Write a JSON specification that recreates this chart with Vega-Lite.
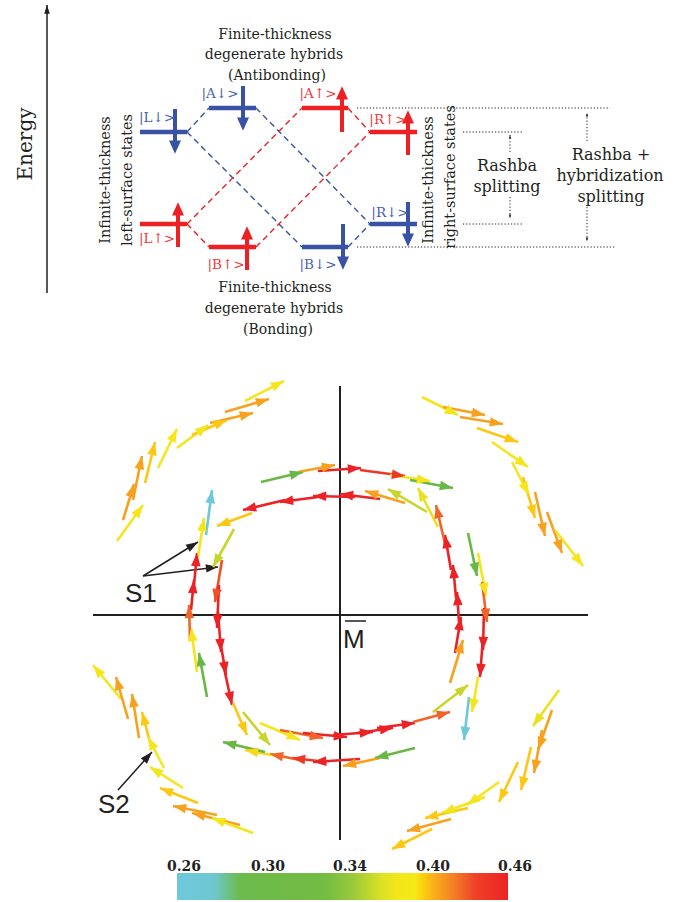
{
  "$schema": "https://vega.github.io/schema/vega-lite/v6.json",
  "width": 684,
  "height": 902,
  "autosize": {"type": "fit", "contains": "padding"},
  "padding": 0,
  "background": "white",
  "config": {"view": {"stroke": null}},
  "datasets": {
    "diagLines": [
      {"kind": "energy", "x": 47, "y": 293, "x2": 47, "y2": 5},
      {"kind": "dot", "x": 357, "y": 108, "x2": 610, "y2": 108},
      {"kind": "dot", "x": 357, "y": 247, "x2": 615, "y2": 247},
      {"kind": "dot", "x": 463, "y": 132, "x2": 523, "y2": 132},
      {"kind": "dot", "x": 463, "y": 224, "x2": 523, "y2": 224},
      {"kind": "dotArrow", "x": 510, "y": 152, "x2": 510, "y2": 135},
      {"kind": "dotArrow", "x": 510, "y": 197, "x2": 510, "y2": 218},
      {"kind": "dotArrow", "x": 587, "y": 141, "x2": 587, "y2": 113},
      {"kind": "dotArrow", "x": 587, "y": 207, "x2": 587, "y2": 241},
      {"kind": "kaxis", "x": 93, "y": 615, "x2": 588, "y2": 615},
      {"kind": "kaxis", "x": 340, "y": 386, "x2": 340, "y2": 840},
      {"kind": "overline", "x": 345, "y": 621, "x2": 366, "y2": 621},
      {"kind": "pointer", "x": 143, "y": 576, "x2": 198, "y2": 542},
      {"kind": "pointer", "x": 143, "y": 576, "x2": 218, "y2": 567},
      {"kind": "pointer", "x": 118, "y": 790, "x2": 152, "y2": 752}
    ],
    "levels": [
      {"state": "L↓", "spin": "down", "x": 140, "x2": 187, "y": 132},
      {"state": "L↑", "spin": "up", "x": 140, "x2": 187, "y": 224},
      {"state": "A↓", "spin": "down", "x": 209, "x2": 256, "y": 108},
      {"state": "A↑", "spin": "up", "x": 302, "x2": 348, "y": 108},
      {"state": "B↑", "spin": "up", "x": 209, "x2": 256, "y": 247},
      {"state": "B↓", "spin": "down", "x": 302, "x2": 348, "y": 247},
      {"state": "R↑", "spin": "up", "x": 370, "x2": 417, "y": 132},
      {"state": "R↓", "spin": "down", "x": 370, "x2": 417, "y": 224}
    ],
    "spins": [
      {"state": "L↓", "spin": "down", "x": 175, "y": 109, "x2": 175, "y2": 149},
      {"state": "A↓", "spin": "down", "x": 243, "y": 86, "x2": 243, "y2": 126},
      {"state": "A↑", "spin": "up", "x": 342, "y": 132, "x2": 342, "y2": 91},
      {"state": "L↑", "spin": "up", "x": 178, "y": 247, "x2": 178, "y2": 207},
      {"state": "B↑", "spin": "up", "x": 247, "y": 270, "x2": 247, "y2": 231},
      {"state": "B↓", "spin": "down", "x": 343, "y": 224, "x2": 343, "y2": 265},
      {"state": "R↑", "spin": "up", "x": 408, "y": 155, "x2": 408, "y2": 115},
      {"state": "R↓", "spin": "down", "x": 408, "y": 202, "x2": 408, "y2": 242}
    ],
    "dashes": [
      {"spin": "down", "x": 187, "y": 132, "x2": 209, "y2": 108},
      {"spin": "down", "x": 256, "y": 108, "x2": 370, "y2": 224},
      {"spin": "down", "x": 187, "y": 132, "x2": 302, "y2": 247},
      {"spin": "down", "x": 348, "y": 247, "x2": 370, "y2": 224},
      {"spin": "up", "x": 187, "y": 224, "x2": 302, "y2": 108},
      {"spin": "up", "x": 187, "y": 224, "x2": 209, "y2": 247},
      {"spin": "up", "x": 256, "y": 247, "x2": 370, "y2": 132},
      {"spin": "up", "x": 348, "y": 108, "x2": 370, "y2": 132}
    ],
    "kets": [
      {"t": "|L↓>", "spin": "down", "x": 157, "y": 118},
      {"t": "|A↓>", "spin": "down", "x": 220, "y": 94},
      {"t": "|A↑>", "spin": "up", "x": 318, "y": 94},
      {"t": "|L↑>", "spin": "up", "x": 157, "y": 239},
      {"t": "|B↑>", "spin": "up", "x": 226, "y": 265},
      {"t": "|B↓>", "spin": "down", "x": 318, "y": 265},
      {"t": "|R↑>", "spin": "up", "x": 388, "y": 120},
      {"t": "|R↓>", "spin": "down", "x": 390, "y": 213}
    ],
    "texts": [
      {"kind": "hyb", "t": "Finite-thickness", "x": 275, "y": 35},
      {"kind": "hyb", "t": "degenerate hybrids", "x": 274, "y": 55},
      {"kind": "hyb", "t": "(Antibonding)", "x": 277, "y": 76},
      {"kind": "hyb", "t": "Finite-thickness", "x": 275, "y": 288},
      {"kind": "hyb", "t": "degenerate hybrids", "x": 274, "y": 309},
      {"kind": "hyb", "t": "(Bonding)", "x": 278, "y": 330},
      {"kind": "side", "t": "Infinite-thickness", "x": 106, "y": 180},
      {"kind": "side", "t": "left-surface states", "x": 128, "y": 180},
      {"kind": "side", "t": "Infinite-thickness", "x": 429, "y": 180},
      {"kind": "side", "t": "right-surface states", "x": 451, "y": 177},
      {"kind": "rashba", "t": "Rashba", "x": 507, "y": 166},
      {"kind": "rashba", "t": "splitting", "x": 507, "y": 187},
      {"kind": "rashba", "t": "Rashba +", "x": 611, "y": 155},
      {"kind": "rashba", "t": "hybridization", "x": 610, "y": 176},
      {"kind": "rashba", "t": "splitting", "x": 611, "y": 197},
      {"kind": "energy", "t": "Energy", "x": 26, "y": 144}
    ],
    "sansLabels": [
      {"t": "M", "x": 343, "y": 648},
      {"t": "S1", "x": 125, "y": 602},
      {"t": "S2", "x": 98, "y": 813}
    ],
    "colorbar": [{"x": 177, "x2": 508, "y": 873, "y2": 900}],
    "cbLabels": [
      {"t": "0.26", "x": 184, "y": 871},
      {"t": "0.30", "x": 268, "y": 871},
      {"t": "0.34", "x": 350, "y": 871},
      {"t": "0.40", "x": 433, "y": 871},
      {"t": "0.46", "x": 515, "y": 871}
    ],
    "vecs": [
      {"x": 117, "y": 541, "x2": 143, "y2": 505, "v": 0.385},
      {"x": 123, "y": 520, "x2": 134, "y2": 484, "v": 0.41},
      {"x": 133, "y": 500, "x2": 142, "y2": 456, "v": 0.41},
      {"x": 145, "y": 483, "x2": 155, "y2": 442, "v": 0.395},
      {"x": 158, "y": 468, "x2": 177, "y2": 429, "v": 0.385},
      {"x": 177, "y": 448, "x2": 208, "y2": 425, "v": 0.385},
      {"x": 192, "y": 435, "x2": 227, "y2": 420, "v": 0.395},
      {"x": 210, "y": 423, "x2": 253, "y2": 413, "v": 0.41},
      {"x": 225, "y": 412, "x2": 269, "y2": 399, "v": 0.41},
      {"x": 245, "y": 401, "x2": 284, "y2": 381, "v": 0.385},
      {"x": 422, "y": 397, "x2": 458, "y2": 415, "v": 0.385},
      {"x": 443, "y": 407, "x2": 485, "y2": 415, "v": 0.41},
      {"x": 460, "y": 417, "x2": 503, "y2": 424, "v": 0.41},
      {"x": 477, "y": 428, "x2": 518, "y2": 442, "v": 0.395},
      {"x": 492, "y": 442, "x2": 528, "y2": 467, "v": 0.385},
      {"x": 512, "y": 462, "x2": 529, "y2": 495, "v": 0.385},
      {"x": 523, "y": 477, "x2": 535, "y2": 518, "v": 0.395},
      {"x": 535, "y": 492, "x2": 545, "y2": 536, "v": 0.41},
      {"x": 547, "y": 512, "x2": 562, "y2": 553, "v": 0.41},
      {"x": 555, "y": 530, "x2": 583, "y2": 566, "v": 0.385},
      {"x": 121, "y": 699, "x2": 93, "y2": 665, "v": 0.385},
      {"x": 128, "y": 719, "x2": 116, "y2": 677, "v": 0.41},
      {"x": 139, "y": 738, "x2": 132, "y2": 694, "v": 0.41},
      {"x": 150, "y": 742, "x2": 142, "y2": 712, "v": 0.395},
      {"x": 164, "y": 768, "x2": 148, "y2": 737, "v": 0.385},
      {"x": 183, "y": 788, "x2": 150, "y2": 767, "v": 0.385},
      {"x": 198, "y": 803, "x2": 160, "y2": 788, "v": 0.395},
      {"x": 217, "y": 815, "x2": 173, "y2": 806, "v": 0.41},
      {"x": 240, "y": 825, "x2": 192, "y2": 813, "v": 0.41},
      {"x": 253, "y": 833, "x2": 212, "y2": 818, "v": 0.385},
      {"x": 559, "y": 690, "x2": 533, "y2": 726, "v": 0.38},
      {"x": 552, "y": 710, "x2": 538, "y2": 750, "v": 0.41},
      {"x": 542, "y": 730, "x2": 534, "y2": 773, "v": 0.41},
      {"x": 531, "y": 747, "x2": 521, "y2": 790, "v": 0.395},
      {"x": 518, "y": 762, "x2": 499, "y2": 802, "v": 0.395},
      {"x": 499, "y": 782, "x2": 467, "y2": 805, "v": 0.385},
      {"x": 485, "y": 797, "x2": 442, "y2": 813, "v": 0.385},
      {"x": 468, "y": 808, "x2": 425, "y2": 818, "v": 0.395},
      {"x": 451, "y": 819, "x2": 407, "y2": 831, "v": 0.41},
      {"x": 432, "y": 829, "x2": 392, "y2": 849, "v": 0.395},
      {"x": 261, "y": 482, "x2": 303, "y2": 472, "v": 0.31},
      {"x": 298, "y": 472, "x2": 335, "y2": 465, "v": 0.41},
      {"x": 318, "y": 471, "x2": 361, "y2": 468, "v": 0.46},
      {"x": 360, "y": 470, "x2": 405, "y2": 476, "v": 0.45},
      {"x": 390, "y": 475, "x2": 430, "y2": 481, "v": 0.385},
      {"x": 410, "y": 480, "x2": 453, "y2": 488, "v": 0.31},
      {"x": 468, "y": 533, "x2": 477, "y2": 576, "v": 0.31},
      {"x": 478, "y": 553, "x2": 486, "y2": 596, "v": 0.385},
      {"x": 482, "y": 582, "x2": 487, "y2": 622, "v": 0.43},
      {"x": 484, "y": 608, "x2": 483, "y2": 650, "v": 0.46},
      {"x": 483, "y": 637, "x2": 480, "y2": 677, "v": 0.46},
      {"x": 478, "y": 677, "x2": 472, "y2": 712, "v": 0.385},
      {"x": 469, "y": 697, "x2": 464, "y2": 740, "v": 0.26},
      {"x": 415, "y": 748, "x2": 375, "y2": 758, "v": 0.31},
      {"x": 380, "y": 758, "x2": 343, "y2": 766, "v": 0.41},
      {"x": 360, "y": 759, "x2": 313, "y2": 762, "v": 0.46},
      {"x": 327, "y": 762, "x2": 292, "y2": 758, "v": 0.45},
      {"x": 300, "y": 760, "x2": 270, "y2": 754, "v": 0.43},
      {"x": 282, "y": 757, "x2": 245, "y2": 750, "v": 0.39},
      {"x": 265, "y": 752, "x2": 223, "y2": 742, "v": 0.31},
      {"x": 207, "y": 697, "x2": 199, "y2": 653, "v": 0.31},
      {"x": 197, "y": 672, "x2": 191, "y2": 628, "v": 0.385},
      {"x": 190, "y": 640, "x2": 189, "y2": 605, "v": 0.43},
      {"x": 191, "y": 610, "x2": 194, "y2": 580, "v": 0.46},
      {"x": 194, "y": 585, "x2": 197, "y2": 553, "v": 0.46},
      {"x": 198, "y": 557, "x2": 204, "y2": 518, "v": 0.385},
      {"x": 206, "y": 535, "x2": 212, "y2": 490, "v": 0.26},
      {"x": 427, "y": 512, "x2": 388, "y2": 489, "v": 0.365},
      {"x": 438, "y": 527, "x2": 418, "y2": 488, "v": 0.38},
      {"x": 405, "y": 503, "x2": 365, "y2": 491, "v": 0.41},
      {"x": 380, "y": 499, "x2": 340, "y2": 494, "v": 0.46},
      {"x": 355, "y": 497, "x2": 313, "y2": 496, "v": 0.46},
      {"x": 318, "y": 497, "x2": 280, "y2": 502, "v": 0.46},
      {"x": 285, "y": 500, "x2": 243, "y2": 510, "v": 0.46},
      {"x": 252, "y": 513, "x2": 217, "y2": 526, "v": 0.395},
      {"x": 234, "y": 529, "x2": 213, "y2": 567, "v": 0.365},
      {"x": 222, "y": 560, "x2": 215, "y2": 602, "v": 0.44},
      {"x": 219, "y": 585, "x2": 217, "y2": 628, "v": 0.46},
      {"x": 218, "y": 612, "x2": 221, "y2": 652, "v": 0.46},
      {"x": 220, "y": 640, "x2": 226, "y2": 675, "v": 0.46},
      {"x": 224, "y": 668, "x2": 232, "y2": 705, "v": 0.46},
      {"x": 233, "y": 703, "x2": 247, "y2": 735, "v": 0.395},
      {"x": 243, "y": 712, "x2": 270, "y2": 745, "v": 0.365},
      {"x": 260, "y": 723, "x2": 300, "y2": 740, "v": 0.385},
      {"x": 280, "y": 730, "x2": 323, "y2": 738, "v": 0.43},
      {"x": 303, "y": 733, "x2": 347, "y2": 737, "v": 0.46},
      {"x": 333, "y": 735, "x2": 373, "y2": 732, "v": 0.46},
      {"x": 357, "y": 733, "x2": 393, "y2": 728, "v": 0.46},
      {"x": 377, "y": 728, "x2": 415, "y2": 723, "v": 0.46},
      {"x": 413, "y": 722, "x2": 450, "y2": 712, "v": 0.43},
      {"x": 433, "y": 712, "x2": 468, "y2": 685, "v": 0.365},
      {"x": 450, "y": 683, "x2": 463, "y2": 640, "v": 0.41},
      {"x": 455, "y": 653, "x2": 461, "y2": 617, "v": 0.46},
      {"x": 459, "y": 622, "x2": 457, "y2": 592, "v": 0.46},
      {"x": 456, "y": 598, "x2": 453, "y2": 565, "v": 0.46},
      {"x": 451, "y": 570, "x2": 445, "y2": 535, "v": 0.46},
      {"x": 446, "y": 548, "x2": 436, "y2": 505, "v": 0.43}
    ]
  },
  "encoding": {
    "x": {"field": "x", "type": "quantitative", "scale": {"domain": [0, 684], "nice": false, "zero": false}, "axis": null},
    "y": {"field": "y", "type": "quantitative", "scale": {"domain": [0, 902], "nice": false, "zero": false, "reverse": true}, "axis": null}
  },
  "layer": [
    {
      "data": {"name": "dashes"},
      "mark": {"type": "rule", "strokeWidth": 1.4, "strokeDash": [6, 4]},
      "encoding": {
        "x2": {"field": "x2"}, "y2": {"field": "y2"},
        "color": {"field": "spin", "type": "nominal", "scale": {"domain": ["down", "up"], "range": ["#3953a4", "#ed2024"]}, "legend": null}
      }
    },
    {
      "data": {"name": "levels"},
      "mark": {"type": "rule", "strokeWidth": 4.5, "strokeCap": "butt"},
      "encoding": {
        "x2": {"field": "x2"},
        "color": {"field": "spin", "type": "nominal", "scale": {"domain": ["down", "up"], "range": ["#3953a4", "#ed2024"]}, "legend": null}
      }
    },
    {
      "data": {"name": "spins"},
      "mark": {"type": "rule", "strokeWidth": 4, "strokeCap": "butt"},
      "encoding": {
        "x2": {"field": "x2"}, "y2": {"field": "y2"},
        "color": {"field": "spin", "type": "nominal", "scale": {"domain": ["down", "up"], "range": ["#3953a4", "#ed2024"]}, "legend": null}
      }
    },
    {
      "data": {"name": "spins"},
      "transform": [{"calculate": "atan2(datum.x2 - datum.x, datum.y - datum.y2) * 180 / PI", "as": "ang"}],
      "mark": {"type": "point", "shape": "M0,-0.8L1,1.4L-1,1.4Z", "filled": true, "opacity": 1, "size": 144, "strokeWidth": 0},
      "encoding": {
        "x": {"field": "x2", "type": "quantitative"},
        "y": {"field": "y2", "type": "quantitative"},
        "angle": {"field": "ang", "type": "quantitative", "scale": null},
        "color": {"field": "spin", "type": "nominal", "scale": {"domain": ["down", "up"], "range": ["#3953a4", "#ed2024"]}, "legend": null}
      }
    },
    {
      "data": {"name": "kets"},
      "mark": {"type": "text", "font": "DejaVu Serif", "fontSize": 13.5, "align": "center", "baseline": "middle"},
      "encoding": {
        "text": {"field": "t"},
        "color": {"field": "spin", "type": "nominal", "scale": {"domain": ["down", "up"], "range": ["#4a62ad", "#ee3b3d"]}, "legend": null}
      }
    },
    {
      "data": {"name": "texts"},
      "transform": [{"filter": "datum.kind == 'hyb'"}],
      "mark": {"type": "text", "font": "DejaVu Serif", "fontSize": 14, "align": "center", "baseline": "middle", "color": "#231f20"},
      "encoding": {"text": {"field": "t"}}
    },
    {
      "data": {"name": "texts"},
      "transform": [{"filter": "datum.kind == 'side'"}],
      "mark": {"type": "text", "font": "DejaVu Serif", "fontSize": 14.5, "align": "center", "baseline": "middle", "angle": 270, "color": "#231f20"},
      "encoding": {"text": {"field": "t"}}
    },
    {
      "data": {"name": "texts"},
      "transform": [{"filter": "datum.kind == 'rashba'"}],
      "mark": {"type": "text", "font": "DejaVu Serif", "fontSize": 16, "align": "center", "baseline": "middle", "color": "#231f20"},
      "encoding": {"text": {"field": "t"}}
    },
    {
      "data": {"name": "texts"},
      "transform": [{"filter": "datum.kind == 'energy'"}],
      "mark": {"type": "text", "font": "DejaVu Serif", "fontSize": 20, "align": "center", "baseline": "middle", "angle": 270, "color": "#231f20"},
      "encoding": {"text": {"field": "t"}}
    },
    {
      "data": {"name": "diagLines"},
      "transform": [{"filter": "datum.kind == 'energy' || datum.kind == 'pointer'"}],
      "mark": {"type": "rule", "strokeWidth": 1.5, "color": "#231f20"},
      "encoding": {"x2": {"field": "x2"}, "y2": {"field": "y2"}}
    },
    {
      "data": {"name": "diagLines"},
      "transform": [{"filter": "datum.kind == 'dot' || datum.kind == 'dotArrow'"}],
      "mark": {"type": "rule", "strokeWidth": 1, "strokeDash": [1.2, 2], "color": "#231f20"},
      "encoding": {"x2": {"field": "x2"}, "y2": {"field": "y2"}}
    },
    {
      "data": {"name": "diagLines"},
      "transform": [{"filter": "datum.kind == 'kaxis'"}],
      "mark": {"type": "rule", "strokeWidth": 2, "color": "#231f20"},
      "encoding": {"x2": {"field": "x2"}, "y2": {"field": "y2"}}
    },
    {
      "data": {"name": "diagLines"},
      "transform": [{"filter": "datum.kind == 'overline'"}],
      "mark": {"type": "rule", "strokeWidth": 1.5, "color": "#231f20"},
      "encoding": {"x2": {"field": "x2"}, "y2": {"field": "y2"}}
    },
    {
      "data": {"name": "diagLines"},
      "transform": [
        {"filter": "datum.kind == 'energy'"},
        {"calculate": "atan2(datum.x2 - datum.x, datum.y - datum.y2) * 180 / PI", "as": "ang"}
      ],
      "mark": {"type": "point", "shape": "M0,0L0.7,2.2L-0.7,2.2Z", "filled": true, "opacity": 1, "size": 64, "strokeWidth": 0, "color": "#231f20"},
      "encoding": {
        "x": {"field": "x2", "type": "quantitative"},
        "y": {"field": "y2", "type": "quantitative"},
        "angle": {"field": "ang", "type": "quantitative", "scale": null}
      }
    },
    {
      "data": {"name": "diagLines"},
      "transform": [
        {"filter": "datum.kind == 'dotArrow'"},
        {"calculate": "atan2(datum.x2 - datum.x, datum.y - datum.y2) * 180 / PI", "as": "ang"}
      ],
      "mark": {"type": "point", "shape": "M0,0L0.8,2.4L-0.8,2.4Z", "filled": true, "opacity": 1, "size": 9, "strokeWidth": 0, "color": "#231f20"},
      "encoding": {
        "x": {"field": "x2", "type": "quantitative"},
        "y": {"field": "y2", "type": "quantitative"},
        "angle": {"field": "ang", "type": "quantitative", "scale": null}
      }
    },
    {
      "data": {"name": "diagLines"},
      "transform": [
        {"filter": "datum.kind == 'pointer'"},
        {"calculate": "atan2(datum.x2 - datum.x, datum.y - datum.y2) * 180 / PI", "as": "ang"}
      ],
      "mark": {"type": "point", "shape": "M0,0L0.75,2.2L-0.75,2.2Z", "filled": true, "opacity": 1, "size": 121, "strokeWidth": 0, "color": "#231f20"},
      "encoding": {
        "x": {"field": "x2", "type": "quantitative"},
        "y": {"field": "y2", "type": "quantitative"},
        "angle": {"field": "ang", "type": "quantitative", "scale": null}
      }
    },
    {
      "data": {"name": "vecs"},
      "mark": {"type": "rule", "strokeWidth": 2.6, "strokeCap": "butt"},
      "encoding": {
        "x2": {"field": "x2"}, "y2": {"field": "y2"},
        "color": {"field": "v", "type": "quantitative", "scale": {"type": "linear", "domain": [0.26, 0.31, 0.365, 0.385, 0.395, 0.41, 0.43, 0.46], "range": ["#6dc8dc", "#69b746", "#c7d52c", "#f5e51c", "#fcc813", "#f7a11f", "#f16529", "#ed2226"], "interpolate": "rgb"}, "legend": null}
      }
    },
    {
      "data": {"name": "vecs"},
      "transform": [{"calculate": "atan2(datum.x2 - datum.x, datum.y - datum.y2) * 180 / PI", "as": "ang"}],
      "mark": {"type": "point", "shape": "M0,0L0.8,2.2L-0.8,2.2Z", "filled": true, "opacity": 1, "size": 144, "strokeWidth": 0},
      "encoding": {
        "x": {"field": "x2", "type": "quantitative"},
        "y": {"field": "y2", "type": "quantitative"},
        "angle": {"field": "ang", "type": "quantitative", "scale": null},
        "color": {"field": "v", "type": "quantitative", "scale": {"type": "linear", "domain": [0.26, 0.31, 0.365, 0.385, 0.395, 0.41, 0.43, 0.46], "range": ["#6dc8dc", "#69b746", "#c7d52c", "#f5e51c", "#fcc813", "#f7a11f", "#f16529", "#ed2226"], "interpolate": "rgb"}, "legend": null}
      }
    },
    {
      "data": {"name": "sansLabels"},
      "mark": {"type": "text", "font": "Liberation Sans", "fontSize": 26, "align": "left", "baseline": "alphabetic", "color": "#231f20"},
      "encoding": {"text": {"field": "t"}}
    },
    {
      "data": {"name": "colorbar"},
      "mark": {
        "type": "rect",
        "fill": {
          "gradient": "linear", "x1": 0, "y1": 0, "x2": 1, "y2": 0,
          "stops": [
            {"offset": 0, "color": "#6dc9dd"},
            {"offset": 0.11, "color": "#6fc7d2"},
            {"offset": 0.19, "color": "#6cbb4c"},
            {"offset": 0.45, "color": "#74bc43"},
            {"offset": 0.53, "color": "#98c93a"},
            {"offset": 0.62, "color": "#dde224"},
            {"offset": 0.66, "color": "#f1e71b"},
            {"offset": 0.72, "color": "#f5e916"},
            {"offset": 0.74, "color": "#fdd20f"},
            {"offset": 0.78, "color": "#f9ac1b"},
            {"offset": 0.84, "color": "#f37b25"},
            {"offset": 0.9, "color": "#ef4227"},
            {"offset": 1, "color": "#ed2224"}
          ]
        }
      },
      "encoding": {"x2": {"field": "x2"}, "y2": {"field": "y2"}}
    },
    {
      "data": {"name": "cbLabels"},
      "mark": {"type": "text", "font": "DejaVu Serif", "fontSize": 14, "fontWeight": "bold", "align": "center", "baseline": "alphabetic", "color": "#231f20"},
      "encoding": {"text": {"field": "t"}}
    }
  ],
  "resolve": {"scale": {"color": "independent"}}
}
